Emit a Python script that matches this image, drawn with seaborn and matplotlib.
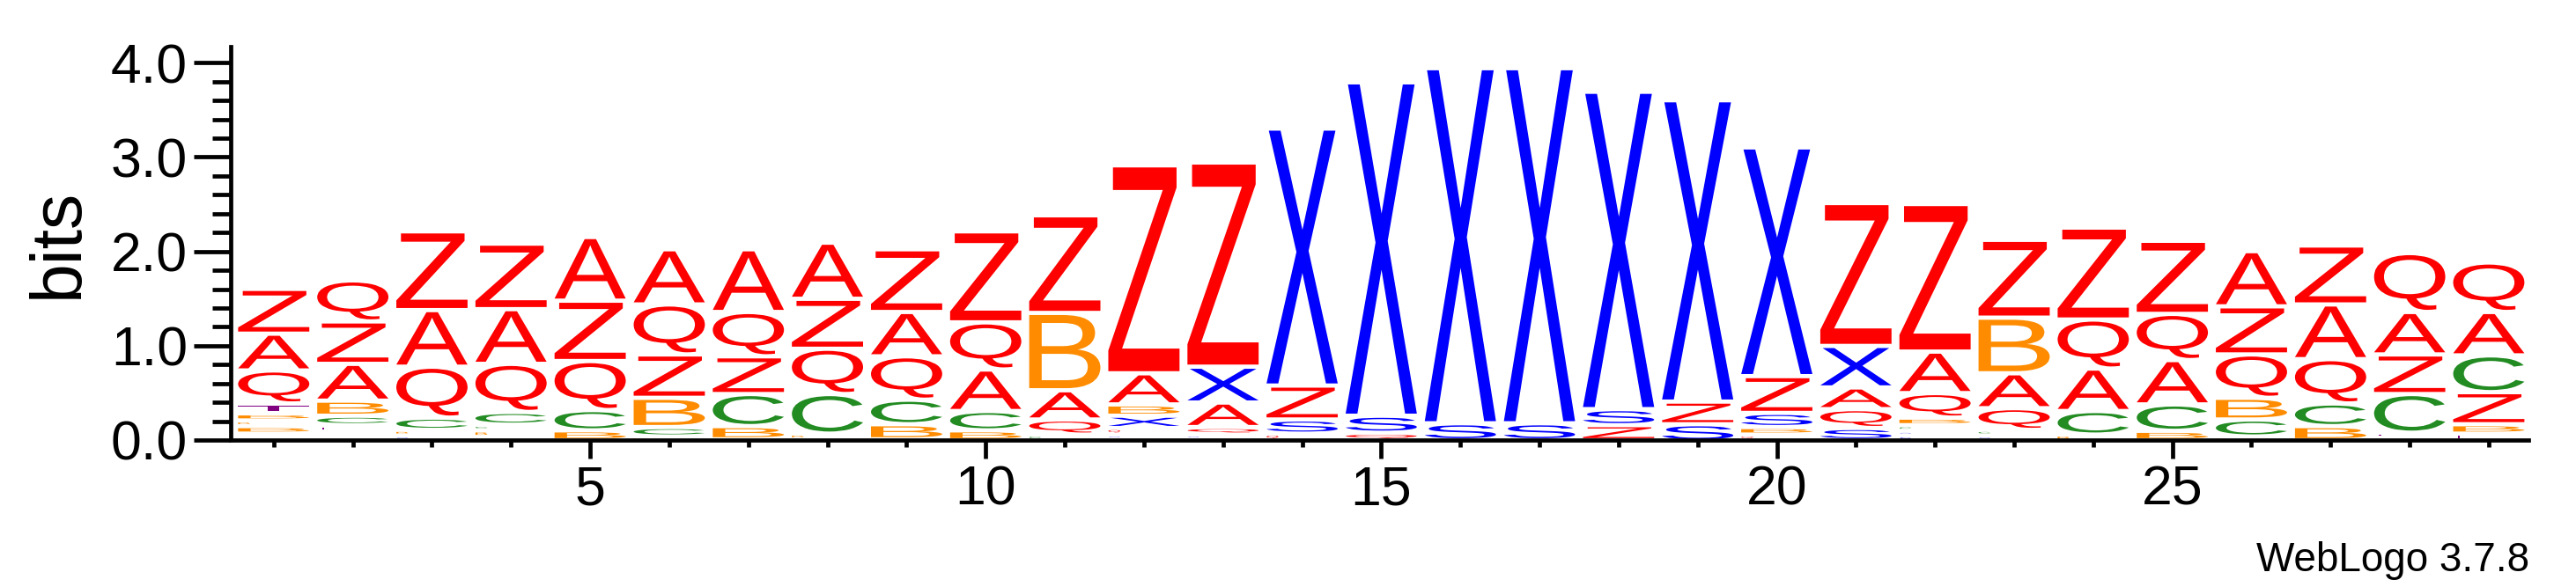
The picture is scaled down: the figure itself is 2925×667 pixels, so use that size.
import matplotlib
matplotlib.use("Agg")
import matplotlib.pyplot as plt
import seaborn as sns
from matplotlib.textpath import TextPath
from matplotlib.patches import PathPatch
from matplotlib.font_manager import FontProperties
from matplotlib.transforms import Affine2D
from matplotlib.ticker import MultipleLocator, FormatStrFormatter

# sequence logo columns: letters bottom -> top, and the bits each one takes
positions = list(range(1, 30))

stack_letters = [
    "SCBBBTQAZ", "SXBTCBAZQ", "TSBCQAZ", "TSBCCQAZ", "TBCQZA",
    "BCBZQA", "TBCZQA", "TBCQZA", "TBCQAZ", "TBCAQZ",
    "TCQABZ", "TSQXBAZ", "TSQAXZ", "TQSZX", "TQSX",
    "TSX", "TSX", "TZSX", "TSZX", "TQBSZX",
    "TSQAXZ", "TSSCBQAZ", "TSCQABZ", "TBCAQZ", "TBCAQZ",
    "BCBQZA", "TBCQAZ", "STCZAQ", "STBZCAQ",
]

stack_bits = [
    [0.045, 0.045, 0.08, 0.06, 0.075, 0.105, 0.35, 0.39, 0.475],
    [0.04, 0.035, 0.035, 0.07, 0.10, 0.16, 0.39, 0.45, 0.435],
    [0.02, 0.05, 0.06, 0.13, 0.54, 0.60, 0.835],
    [0.01, 0.045, 0.07, 0.06, 0.135, 0.51, 0.58, 0.695],
    [0.02, 0.105, 0.215, 0.52, 0.64, 0.675],
    [0.06, 0.10, 0.31, 0.46, 0.53, 0.585],
    [0.03, 0.14, 0.34, 0.40, 0.47, 0.665],
    [0.03, 0.06, 0.42, 0.48, 0.53, 0.595],
    [0.03, 0.16, 0.26, 0.46, 0.47, 0.665],
    [0.02, 0.105, 0.205, 0.44, 0.50, 0.965],
    [0.02, 0.06, 0.16, 0.31, 0.82, 1.035],
    [0.03, 0.05, 0.07, 0.13, 0.12, 0.33, 2.205],
    [0.03, 0.05, 0.08, 0.26, 0.38, 2.165],
    [0.02, 0.07, 0.15, 0.36, 2.725],
    [0.02, 0.08, 0.18, 3.535],
    [0.02, 0.18, 3.765],
    [0.02, 0.18, 3.765],
    [0.02, 0.16, 0.17, 3.365],
    [0.01, 0.18, 0.24, 3.195],
    [0.02, 0.06, 0.08, 0.15, 0.39, 2.425],
    [0.02, 0.13, 0.20, 0.23, 0.44, 1.515],
    [0.01, 0.06, 0.05, 0.06, 0.08, 0.26, 0.44, 1.565],
    [0.02, 0.05, 0.06, 0.23, 0.37, 0.59, 0.825],
    [0.01, 0.07, 0.25, 0.45, 0.52, 0.975],
    [0.02, 0.10, 0.28, 0.47, 0.49, 0.775],
    [0.06, 0.18, 0.23, 0.46, 0.51, 0.585],
    [0.02, 0.15, 0.24, 0.47, 0.58, 0.625],
    [0.05, 0.05, 0.41, 0.42, 0.45, 0.625],
    [0.02, 0.07, 0.10, 0.34, 0.39, 0.46, 0.525],
]

letter_colors = {
    "A": "#FF0000", "Q": "#FF0000", "Z": "#FF0000",
    "B": "#FF8C00", "C": "#228B22",
    "X": "#0000FF", "S": "#0000FF", "T": "#800080",
}

sns.set_style("ticks")
plt.rcParams["font.family"] = ["Liberation Sans", "DejaVu Sans"]
for key in ["text.color", "axes.labelcolor", "axes.edgecolor", "xtick.color", "ytick.color"]:
    plt.rcParams[key] = "black"

fig = plt.figure(figsize=(29.25, 6.67), dpi=100)
ax = fig.add_axes([0.0909, 0.2504, 0.8906, 0.670])

glyph_font = FontProperties(family="Liberation Sans")
GAP = 0.045      # blank space WebLogo leaves on top of each glyph
WIDTH = 0.9


def draw_letter(ax, letter, x, y0, h):
    gh = h - GAP
    if gh <= 0.003:
        return
    tp = TextPath((0, 0), letter, size=1, prop=glyph_font)
    bb = tp.get_extents()
    w = WIDTH if gh >= 0.03 else 0.15
    tr = (Affine2D()
          .translate(-bb.x0, -bb.y0)
          .scale(w / bb.width, gh / bb.height)
          .translate(x - WIDTH / 2, y0))
    ax.add_patch(PathPatch(tr.transform_path(tp), facecolor=letter_colors[letter],
                           edgecolor="none", lw=0))


for pos, letters, bits in zip(positions, stack_letters, stack_bits):
    y = 0.0
    for letter, h in zip(letters, bits):
        draw_letter(ax, letter, pos, y, h)
        y += h

ax.set_xlim(0.5, 29.5)
ax.set_ylim(0, 4.17)

ax.xaxis.set_major_locator(MultipleLocator(5))
ax.xaxis.set_minor_locator(MultipleLocator(1))
ax.yaxis.set_major_locator(MultipleLocator(1))
ax.yaxis.set_minor_locator(MultipleLocator(0.2))
ax.yaxis.set_major_formatter(FormatStrFormatter("%.1f"))

ax.tick_params(axis="y", which="major", length=30, width=3.4, labelsize=45, pad=5)
ax.tick_params(axis="y", which="minor", length=15, width=3.4)
ax.tick_params(axis="x", which="major", length=15, width=3.4, labelsize=45, pad=5)
ax.tick_params(axis="x", which="minor", length=6, width=3.4)

sns.despine(ax=ax)
for side in ["left", "bottom"]:
    ax.spines[side].set_linewidth(3.4)
    ax.spines[side].set_color("black")
ax.spines["left"].set_position(("outward", 3))

ax.set_ylabel("bits", fontsize=58)
ax.yaxis.set_label_coords(-0.062, 0.5)

fig.text(0.9818, 0.027, "WebLogo 3.7.8", fontsize=33, ha="right", va="baseline")

fig.savefig("out.png", dpi=100)
